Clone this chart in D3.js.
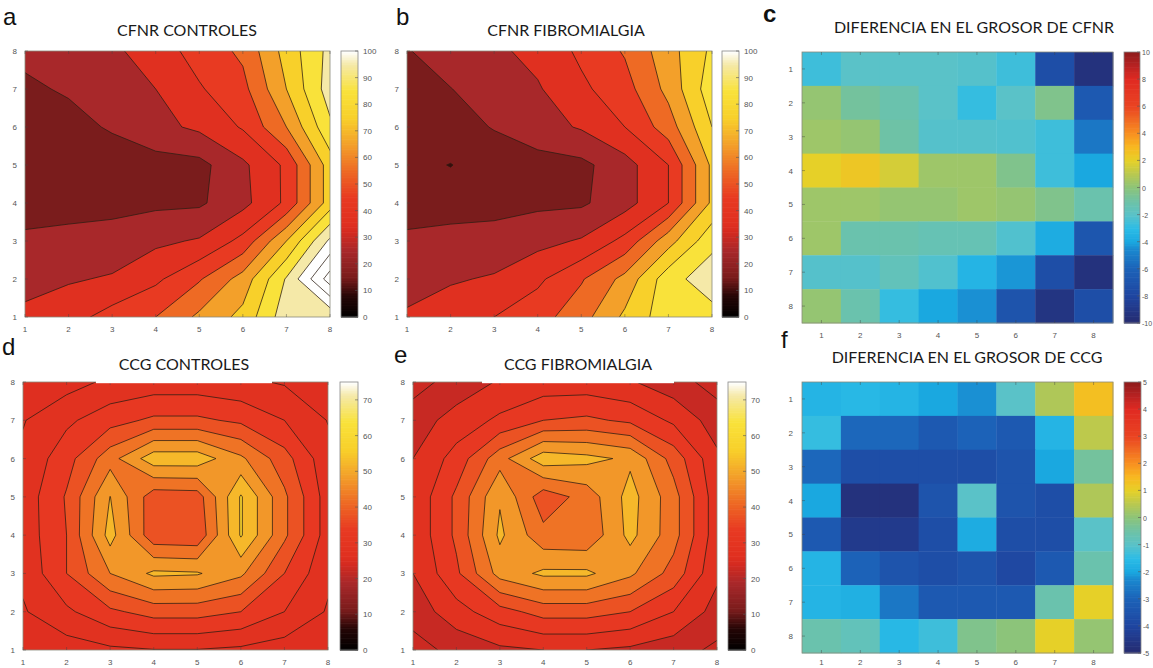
<!DOCTYPE html>
<html><head><meta charset="utf-8">
<script src="https://cdn.jsdelivr.net/npm/d3@7"></script>
<style>body{margin:0;background:#fff}svg{display:block}</style>
</head><body>
<svg id="chart" width="1153" height="668"></svg>
<script>
// ---------- data ----------
const gridX = [1, 2, 3, 4, 5, 6, 7, 8];
const gridY = [1, 2, 3, 4, 5, 6, 7, 8];

// contour grids: rows listed from y = 8 (top) down to y = 1 (bottom), columns x = 1..8
const cfnrControles = [
  [22, 25, 28, 35, 44, 52, 74, 93],
  [18.5, 21, 25, 30, 39, 47, 70, 95],
  [14, 17, 21, 27, 32, 41, 60, 88],
  [13, 14, 15, 16, 17, 28, 42, 75],
  [13, 15, 17, 18, 18.5, 27, 42, 75],
  [23, 24, 24, 28, 31, 43, 70, 102],
  [27, 29, 31, 38, 49, 64, 91, 125],
  [32, 36, 44, 50, 62, 73, 96, 92]
];
const cfnrFibromialgia = [
  [19.5, 24, 28, 33, 42, 51, 66, 82],
  [17, 19.8, 24, 29, 38, 46, 63, 86],
  [14, 16.5, 20.5, 26, 31, 40, 55, 80],
  [13, 9.7, 15, 16, 17.5, 26, 40, 72],
  [13, 15, 16.5, 18, 18.5, 26, 40, 72],
  [23, 24, 24, 27, 31, 43, 66, 87],
  [27, 29, 31, 38, 49, 63, 86, 96],
  [31, 35, 40, 46, 56, 72, 86, 86]
];
const ccgControles = [
  [26, 28, 31, 32, 32, 31, 29.5, 26],
  [29.7, 34, 38, 41, 41, 39, 35, 29.8],
  [31, 38, 48, 58, 58, 51, 42, 31.5],
  [32, 40.5, 55.1, 42, 42.5, 60.5, 46, 32.5],
  [32, 40, 57, 41.5, 41, 60.5, 46, 32.5],
  [31, 40, 50, 56, 55.5, 51, 40, 31],
  [29.5, 34, 39, 42, 42, 40, 35, 29.5],
  [26, 27.5, 29, 29.8, 29.8, 29, 27.5, 26]
];
const ccgFibromialgia = [
  [23, 27, 30.5, 32, 32, 30.5, 27, 23],
  [27.5, 32, 36, 40, 41, 39, 34, 27.5],
  [30, 37, 48, 58, 56.5, 54, 43, 31],
  [31, 41, 54.5, 42, 47, 57, 47, 32],
  [31, 41, 56, 46.5, 46, 56.5, 47, 32],
  [30, 39, 52, 56, 56, 51, 43, 31],
  [27, 33, 38, 42, 42, 40, 35, 28],
  [23, 26.5, 29, 30, 30, 29, 27, 24]
];
// heatmap grids: rows listed from y = 1 (top) to y = 8 (bottom)
const difCfnr = [
  [-2.6, -2, -2, -2, -2.1, -2.6, -7.4, -9.4],
  [0.2, -0.8, -1.2, -2, -2.8, -2, -0.4, -6.6],
  [0.4, 0.2, -1, -2.1, -2.1, -2.2, -2.6, -5.2],
  [2, 2.4, 1.6, 0.4, 0.4, -0.4, -2.6, -4],
  [0.4, 0.4, 0.2, 0.2, 0.4, 0.2, -0.4, -1.2],
  [0.4, -1.2, -1.2, -1.4, -1.4, -2.2, -3.8, -6.8],
  [-2.1, -2.1, -1.6, -2.2, -3.4, -4.3, -7.4, -9.4],
  [0.2, -1.2, -2.8, -4, -4.4, -7, -9.2, -7.4]
];
const difCcg = [
  [-1.7, -1.6, -1.7, -2, -2.2, -1, 0.4, 1.35],
  [-1.4, -2.9, -2.9, -3.3, -3, -3.3, -1.7, 0.55],
  [-2.9, -3.7, -3.7, -3.7, -3.7, -3.5, -2, -0.4],
  [-2, -4.7, -4.7, -3.5, -1, -3.5, -3.7, 0.4],
  [-3.3, -4.4, -4.4, -3.7, -1.9, -3.7, -3.7, -1],
  [-1.7, -3, -3.5, -3.7, -3.5, -3.9, -3.3, -0.6],
  [-1.7, -1.8, -2.6, -3.3, -3.3, -3.3, -0.6, 1],
  [-0.6, -0.8, -1.6, -1.3, -0.2, 0, 1, 0.1]
];
const cfnrLevels = [10, 20, 30, 40, 50, 60, 70, 80, 90, 100, 110, 120];
const ccgLevelsControles = [30, 35, 40, 45, 50, 55, 60];
const ccgLevelsFibro = [25, 30, 35, 40, 45, 50, 55, 60];
const axisTicks = [1, 2, 3, 4, 5, 6, 7, 8];
const cfnrBarTicks = [0, 10, 20, 30, 40, 50, 60, 70, 80, 90, 100];
const ccgBarTicks = [0, 10, 20, 30, 40, 50, 60, 70];
const difCfnrTicks = [-10, -8, -6, -4, -2, 0, 2, 4, 6, 8, 10];
const difCcgTicks = [-5, -4, -3, -2, -1, 0, 1, 2, 3, 4, 5];

// ---------- colour maps ----------
const hot = d3.scaleLinear()
  .domain([0, 0.08, 0.15, 0.25, 0.32, 0.35, 0.45, 0.55, 0.65, 0.75, 0.85, 0.95, 1])
  .range(['#000000', '#250606', '#7a1c1c', '#a8282a', '#d42a20', '#e03020', '#e83a22', '#ee6a24', '#f3a02a', '#f8d02a', '#f9e23a', '#f5e9a8', '#ffffff'])
  .interpolate(d3.interpolateRgb).clamp(true);
const diffMap = d3.scaleLinear()
  .domain([0, 0.1, 0.2, 0.275, 0.3, 0.35, 0.4, 0.45, 0.5, 0.55, 0.6, 0.65, 0.7, 0.75, 0.8, 0.9, 0.95, 1])
  .range(['#262a6e', '#1f45a0', '#1c62b8', '#1a8ad0', '#1aa8e0', '#2cbce6', '#5ac2c8', '#6ec2a6', '#8cc47a', '#b8c850', '#e6d028', '#f8b820', '#f89020', '#f06a22', '#ea4422', '#e02a22', '#b82222', '#8e1c1c'])
  .interpolate(d3.interpolateRgb).clamp(true);

const svg = d3.select('#chart');
const defs = svg.append('defs');
const tickFont = 'Liberation Sans, Arial, sans-serif';
const tickColor = '#555';

function colorbar(x, w, y0, y1, vmin, vmax, fn, ticks, labelGap, labelSize) {
  const s = d3.scaleLinear().domain([vmin, vmax]).range([y1, y0]);
  const n = 160;
  const steps = d3.range(n);
  const g = svg.append('g');
  g.selectAll('rect').data(steps).join('rect')
    .attr('x', x).attr('width', w)
    .attr('y', i => s(vmin + (i + 1) * (vmax - vmin) / n))
    .attr('height', (y1 - y0) / n + 0.6)
    .attr('fill', i => fn(vmin + (i + 0.5) * (vmax - vmin) / n));
  g.append('rect').attr('x', x).attr('y', y0).attr('width', w).attr('height', y1 - y0)
    .attr('fill', 'none').attr('stroke', '#888').attr('stroke-width', 0.8);
  g.selectAll('line.t').data(ticks).join('line').attr('class', 't')
    .attr('x1', x + w - 3).attr('x2', x + w).attr('y1', d => s(d)).attr('y2', d => s(d))
    .attr('stroke', '#555').attr('stroke-width', 0.6);
  g.selectAll('text').data(ticks).join('text')
    .attr('x', x + w + labelGap).attr('y', d => s(d) + 3)
    .attr('font-family', tickFont).attr('font-size', labelSize).attr('fill', tickColor)
    .text(d => d);
}

function labels(p) {
  svg.append('text').attr('x', p.letter[0]).attr('y', p.letter[1])
    .attr('font-family', 'Liberation Sans, Arial, sans-serif').attr('font-size', 24)
    .attr('font-weight', p.letterBold ? 'bold' : 'normal').attr('fill', '#111').text(p.id);
  svg.append('text').attr('x', p.title[0]).attr('y', p.title[1])
    .attr('text-anchor', 'middle').attr('font-family', 'Lato, Open Sans, sans-serif')
    .attr('font-size', 16).attr('fill', '#1a1a1a').text(p.name);
}

function axes(g, p, xs, ys, xLabelOffset, yLabelOffset) {
  const {x0, x1, y0, y1} = p.box;
  g.append('rect').attr('x', x0).attr('y', y0).attr('width', x1 - x0).attr('height', y1 - y0)
    .attr('fill', 'none').attr('stroke', '#8a8a7a').attr('stroke-width', 0.8);
  g.selectAll('line.xt').data(axisTicks).join('line').attr('class', 'xt')
    .attr('x1', d => xs(d)).attr('x2', d => xs(d)).attr('y1', y1).attr('y2', y1 - 3)
    .attr('stroke', '#444').attr('stroke-opacity', 0.6).attr('stroke-width', 0.7);
  g.selectAll('line.xt2').data(axisTicks).join('line').attr('class', 'xt2')
    .attr('x1', d => xs(d)).attr('x2', d => xs(d)).attr('y1', y0).attr('y2', y0 + 3)
    .attr('stroke', '#444').attr('stroke-opacity', 0.6).attr('stroke-width', 0.7);
  g.selectAll('line.yt').data(axisTicks).join('line').attr('class', 'yt')
    .attr('x1', x0).attr('x2', x0 + 3).attr('y1', d => ys(d)).attr('y2', d => ys(d))
    .attr('stroke', '#444').attr('stroke-opacity', 0.6).attr('stroke-width', 0.7);
  g.selectAll('text.xl').data(axisTicks).join('text').attr('class', 'xl')
    .attr('x', d => xs(d)).attr('y', y1 + xLabelOffset).attr('text-anchor', 'middle')
    .attr('font-family', tickFont).attr('font-size', 8).attr('fill', tickColor).text(d => d);
  g.selectAll('text.yl').data(axisTicks).join('text').attr('class', 'yl')
    .attr('x', x0 - yLabelOffset).attr('y', d => ys(d) + 3).attr('text-anchor', 'end')
    .attr('font-family', tickFont).attr('font-size', 8).attr('fill', tickColor).text(d => d);
}

function contourPanel(p) {
  const {x0, x1, y0, y1} = p.box;
  const xs = d3.scaleLinear().domain([1, 8]).range([x0, x1]);
  const ys = d3.scaleLinear().domain([1, 8]).range([y1, y0]);
  const values = p.rows.slice().reverse().flat();
  const cmap = v => hot(v / p.cmax);
  defs.append('clipPath').attr('id', 'clip-' + p.id)
    .append('rect').attr('x', x0).attr('y', y0).attr('width', x1 - x0).attr('height', y1 - y0);
  const g = svg.append('g').attr('clip-path', `url(#clip-${p.id})`);
  g.append('rect').attr('x', x0).attr('y', y0).attr('width', x1 - x0).attr('height', y1 - y0)
    .attr('fill', cmap(d3.min(values)));
  const proj = d3.geoTransform({point: function (x, y) { this.stream.point(xs(x + 0.5), ys(y + 0.5)); }});
  const path = d3.geoPath(proj);
  const cs = d3.contours().size([8, 8]).thresholds(p.levels)(values).filter(c => c.coordinates.length);
  g.selectAll('path.band').data(cs).join('path').attr('class', 'band')
    .attr('d', path).attr('fill', d => cmap(d.value + p.shift)).attr('fill-rule', 'evenodd');
  g.selectAll('path.iso').data(cs).join('path').attr('class', 'iso')
    .attr('d', path).attr('fill', 'none').attr('stroke', '#2b1d12')
    .attr('stroke-width', 0.9).attr('stroke-opacity', 0.85).attr('stroke-linejoin', 'round');
  axes(svg.append('g'), p, xs, ys, 15, 8);
  colorbar(p.bar[0], p.bar[1], y0, y1, 0, p.cmax, cmap, p.barTicks, 5, 8);
  if (p.titleBox) {
    svg.append('rect').attr('x', p.title[0] - p.titleBox / 2).attr('y', p.title[1] - 18)
      .attr('width', p.titleBox).attr('height', y0 - (p.title[1] - 18) + 1.2).attr('fill', '#fff');
  }
  labels(p);
}

function heatPanel(p) {
  const {x0, x1, y0, y1} = p.box;
  const xs = d3.scaleBand().domain(gridX).range([x0, x1]);
  const ys = d3.scaleBand().domain(gridY).range([y0, y1]);
  const cmap = v => diffMap((v - p.vmin) / (p.vmax - p.vmin));
  const cells = p.rows.flatMap((r, i) => r.map((v, j) => ({x: gridX[j], y: gridY[i], v})));
  svg.append('g').selectAll('rect').data(cells).join('rect')
    .attr('x', d => xs(d.x)).attr('y', d => ys(d.y))
    .attr('width', xs.bandwidth() + 0.4).attr('height', ys.bandwidth() + 0.4)
    .attr('fill', d => cmap(d.v));
  const xc = d => xs(d) + xs.bandwidth() / 2;
  const yc = d => ys(d) + ys.bandwidth() / 2;
  axes(svg.append('g'), p, xc, yc, p.xLabelOffset, 9);
  colorbar(p.bar[0], p.bar[1], y0, y1, p.vmin, p.vmax, cmap, p.barTicks, 2, 7);
  labels(p);
}

contourPanel({id: 'a', name: 'CFNR CONTROLES', rows: cfnrControles, levels: cfnrLevels, cmax: 100, shift: 5,
  box: {x0: 25, x1: 330, y0: 51, y1: 317}, bar: [341, 17], barTicks: cfnrBarTicks,
  letter: [3, 25], title: [187, 36]});
contourPanel({id: 'b', name: 'CFNR FIBROMIALGIA', rows: cfnrFibromialgia, levels: cfnrLevels, cmax: 100, shift: 5,
  box: {x0: 407, x1: 712, y0: 51, y1: 317}, bar: [722, 17], barTicks: cfnrBarTicks,
  letter: [396, 25], title: [566, 36]});
heatPanel({id: 'c', name: 'DIFERENCIA EN EL GROSOR DE CFNR', rows: difCfnr, vmin: -10, vmax: 10,
  box: {x0: 802, x1: 1113, y0: 52, y1: 323}, bar: [1124, 16], barTicks: difCfnrTicks, xLabelOffset: 15,
  letter: [763, 22], letterBold: true, title: [974, 33]});
contourPanel({id: 'd', name: 'CCG CONTROLES', rows: ccgControles, levels: ccgLevelsControles, cmax: 75, shift: -2.5,
  box: {x0: 23, x1: 328, y0: 382, y1: 650}, bar: [340, 18], barTicks: ccgBarTicks,
  letter: [2, 355], title: [184, 370], titleBox: 176});
contourPanel({id: 'e', name: 'CCG FIBROMIALGIA', rows: ccgFibromialgia, levels: ccgLevelsFibro, cmax: 75, shift: -2.5,
  box: {x0: 413, x1: 717, y0: 382, y1: 650}, bar: [728, 18], barTicks: ccgBarTicks,
  letter: [394, 363], title: [578, 370], titleBox: 192});
heatPanel({id: 'f', name: 'DIFERENCIA EN EL GROSOR DE CCG', rows: difCcg, vmin: -5, vmax: 5,
  box: {x0: 802, x1: 1113, y0: 382, y1: 653}, bar: [1124, 17], barTicks: difCcgTicks, xLabelOffset: 12,
  letter: [781, 348], title: [967, 363]});
</script>
</body></html>
